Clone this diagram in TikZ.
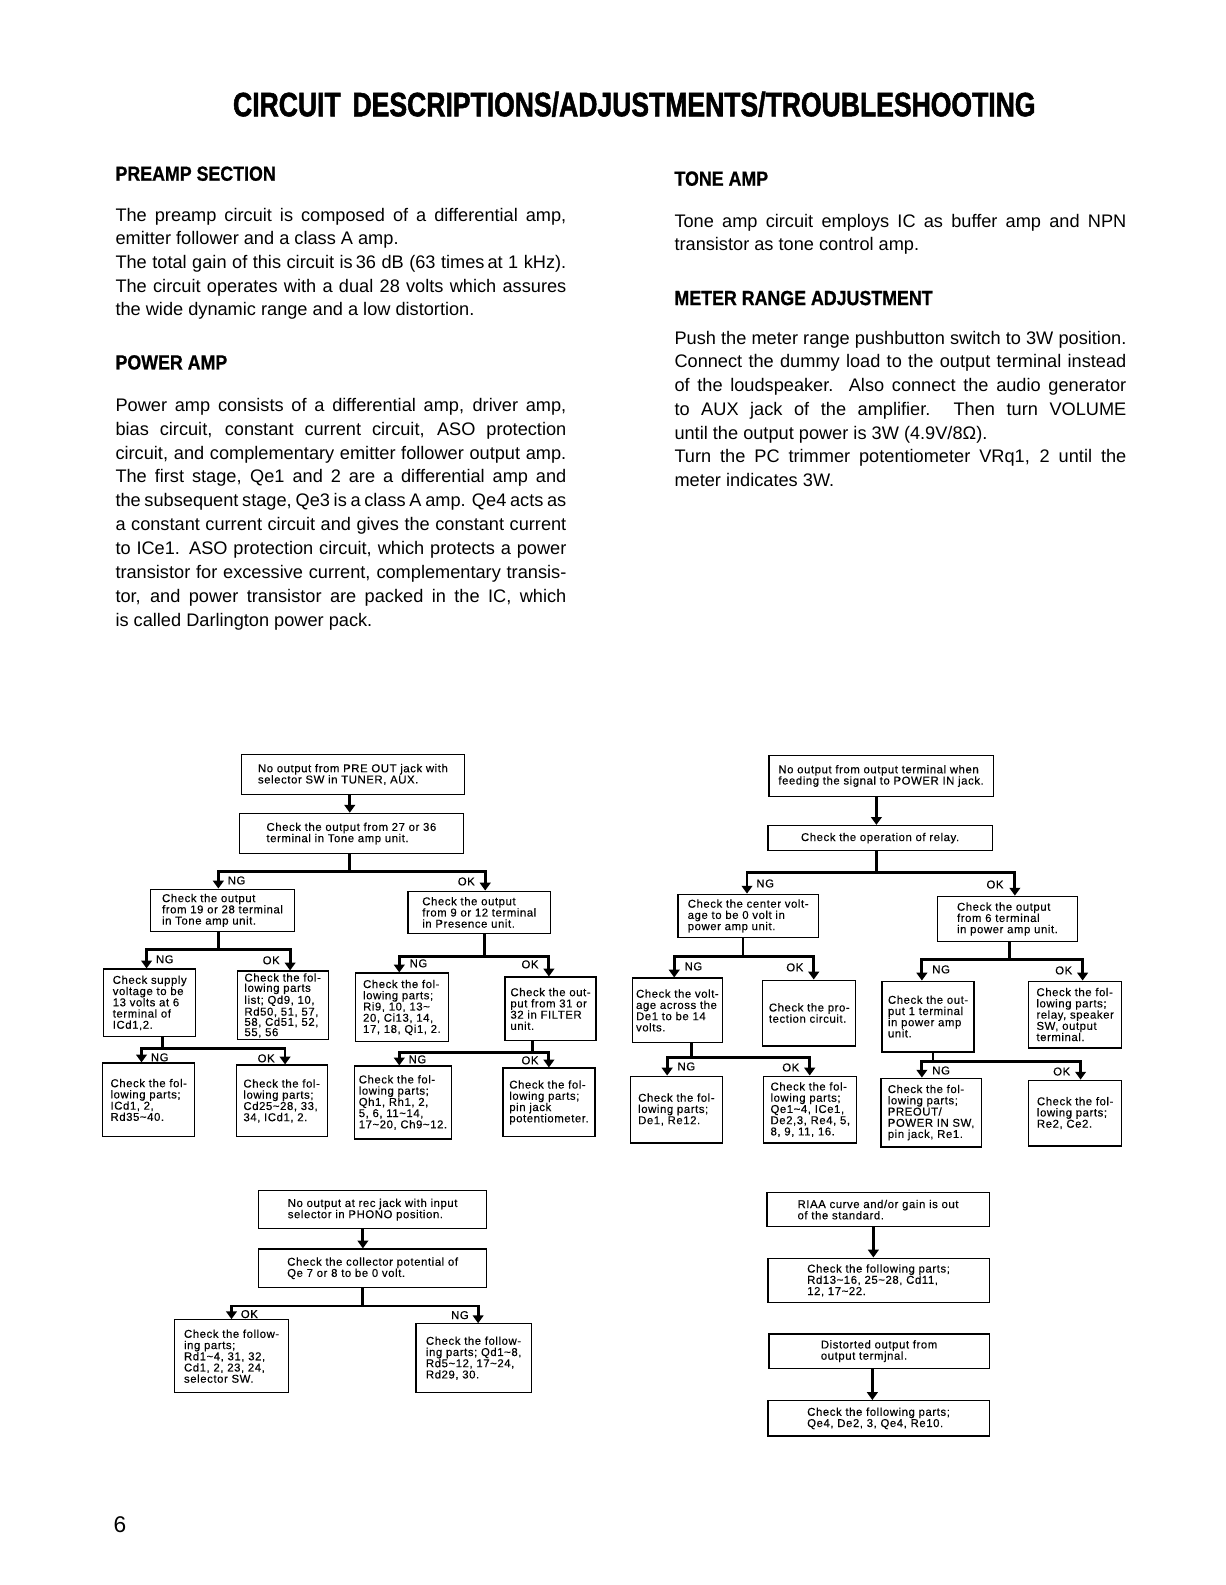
\documentclass[tikz,border=0pt]{standalone}
\usepackage{fontspec}
\usetikzlibrary{arrows.meta}
\setmainfont{Liberation Sans}
\newfontfamily\titlefont[FakeStretch=0.785,FakeBold=1.5]{Liberation Sans}
\newfontfamily\headfont[FakeStretch=0.87,FakeBold=0.8]{Liberation Sans}
\newfontfamily\boxfont[LetterSpace=5,FakeBold=0.3]{Liberation Sans}
\newlength\pxu
\setlength\pxu{0.25mm}
\newcommand\jline[1]{\makebox[446\pxu][s]{#1}}
\newcommand\jlineR[1]{\makebox[447\pxu][s]{#1}}
\newcommand\tld{\textasciitilde}

\tikzset{
  flowbox/.style={draw, line width=0.9pt, inner sep=0pt, align=left, anchor=north west,
    font=\boxfont\fontsize{8}{7.9}\selectfont},
  boxsize/.style 2 args={minimum width=#1*0.25mm, minimum height=#2*0.25mm},
  flowline/.style={line width=2pt},
  flowarrow/.style={line width=2pt, -{Triangle[width=7.5pt,length=5.5pt]}},
  flowlabel/.style={inner sep=0pt, font=\boxfont\fontsize{8}{8}\selectfont},
  bodyline/.style={anchor=base west, inner sep=0pt, font=\fontsize{12.8}{16}\selectfont},
  headline/.style={anchor=base west, inner sep=0pt, font=\headfont\bfseries\fontsize{14.4}{16}\selectfont},
}

\begin{document}
\begin{tikzpicture}[x=0.25mm, y=-0.25mm]
\fill[white] (0,0) rectangle (1212,1568);

% page title
\node[anchor=base, inner sep=0pt, font=\titlefont\bfseries\fontsize{23.8}{26}\selectfont] (title) at (627.5,115)
  {CIRCUIT\hspace{0.35em}DESCRIPTIONS/ADJUSTMENTS/TROUBLESHOOTING};

% left column
\node[headline] (hPre) at (114,178.8) {PREAMP SECTION};
\node[bodyline] (pre1) at (114,218.7) {\jline{The preamp circuit is composed of a differential amp,}};
\node[bodyline] (pre2) at (114,242.1) {emitter follower and a class A amp.};
\node[bodyline] (pre3) at (114,265.5) {\jline{The total gain of this circuit is\,36 dB (63 times\,at 1 kHz).}};
\node[bodyline] (pre4) at (114,288.9) {\jline{The circuit operates with a dual 28 volts which assures}};
\node[bodyline] (pre5) at (114,312.3) {the wide dynamic range and a low distortion.};

\node[headline] (hPow) at (114,365.5) {POWER AMP};
\node[bodyline] (pow1) at (114,407) {\jline{Power amp consists of a differential amp, driver amp,}};
\node[bodyline] (pow2) at (114,430.6) {\jline{bias circuit, constant current circuit, ASO protection}};
\node[bodyline] (pow3) at (114,454.2) {\jline{circuit, and complementary emitter follower output amp.}};
\node[bodyline] (pow4) at (114,477.8) {\jline{The first stage, Qe1 and 2 are a differential amp and}};
\node[bodyline] (pow5) at (114,501.4) {\jline{the subsequent stage, Qe3 is a class A amp. Qe4 acts as}};
\node[bodyline] (pow6) at (114,525) {\jline{a constant current circuit and gives the constant current}};
\node[bodyline] (pow7) at (114,548.6) {\jline{to ICe1. ASO protection circuit, which protects a power}};
\node[bodyline] (pow8) at (114,572.2) {\jline{transistor for excessive current, complementary transis-}};
\node[bodyline] (pow9) at (114,595.8) {\jline{tor, and power transistor are packed in the IC, which}};
\node[bodyline] (pow10) at (114,619.4) {is called Darlington power pack.};

% right column
\node[headline] (hTone) at (667,183.7) {TONE AMP};
\node[bodyline] (tone1) at (667,224.9) {\jlineR{Tone amp circuit employs IC as buffer amp and NPN}};
\node[bodyline] (tone2) at (667,248.3) {transistor as tone control amp.};

\node[headline] (hMeter) at (667,301.8) {METER RANGE ADJUSTMENT};
\node[bodyline] (met1) at (667,340.4) {\jlineR{Push the meter range pushbutton switch to 3W position.}};
\node[bodyline] (met2) at (667,363.9) {\jlineR{Connect the dummy load to the output terminal instead}};
\node[bodyline] (met3) at (667,387.4) {\jlineR{of the loudspeaker.\ \ Also connect the audio generator}};
\node[bodyline] (met4) at (667,410.9) {\jlineR{to AUX jack of the amplifier.\ \ Then turn VOLUME}};
\node[bodyline] (met5) at (667,434.4) {until the output power is 3W (4.9V/8Ω).};
\node[bodyline] (met6) at (667,457.9) {\jlineR{Turn the PC trimmer potentiometer VRq1, 2 until the}};
\node[bodyline] (met7) at (667,481.4) {meter indicates 3W.};

% flowchart: PRE OUT
\node[flowbox, boxsize={221}{39}] (A1) at (238,746) {No output from PRE OUT jack with\\selector SW in TUNER, AUX.};
\node[flowbox, boxsize={222}{40}] (A2) at (236,804) {Check the output from 27 or 36\\terminal in Tone amp unit.};
\node[flowbox, boxsize={143}{42}] (B1) at (148,879) {Check the output\\from 19 or 28 terminal\\in Tone amp unit.};
\node[flowbox, boxsize={141}{42}] (B2) at (403,881) {Check the output\\from 9 or 12 terminal\\in Presence unit.};
\node[flowbox, boxsize={91}{67}] (C1) at (102,958) {Check supply\\voltage to be\\13 volts at 6\\terminal of\\ICd1,2.};
\node[flowbox, boxsize={90}{68}, font=\boxfont\fontsize{8}{7.2}\selectfont] (C2) at (234,960) {Check the fol-\\lowing parts\\list; Qd9, 10,\\Rd50, 51, 57,\\58, Cd51, 52,\\55, 56};
\node[flowbox, boxsize={91}{73}] (D1) at (101,1051) {Check the fol-\\lowing parts;\\ICd1, 2,\\Rd35\tld40.};
\node[flowbox, boxsize={90}{71}] (D2) at (233,1053) {Check the fol-\\lowing parts;\\Cd25\tld28, 33,\\34, ICd1, 2.};
\node[flowbox, boxsize={92}{68}] (E1) at (351,962) {Check the fol-\\lowing parts;\\Ri9, 10, 13\tld\\20, Ci13, 14,\\17, 18, Qi1, 2.};
\node[flowbox, boxsize={90}{63}] (E2) at (499,966) {Check the out-\\put from 31 or\\32 in FILTER\\unit.};
\node[flowbox, boxsize={96}{72}] (F1) at (350,1054) {Check the fol-\\lowing parts;\\Qh1, Rh1, 2,\\5, 6, 11\tld14,\\17\tld20, Ch9\tld12.};
\node[flowbox, boxsize={91}{68}] (F2) at (497,1056) {Check the fol-\\lowing parts;\\pin jack\\potentiometer.};

\coordinate (jA) at (346,862);
\coordinate (jAl) at (216,862);
\coordinate (jAr) at (480,862);
\coordinate (jB) at (216,939);
\coordinate (jBl) at (145,939);
\coordinate (jBr) at (287,939);
\coordinate (jC) at (161,1037);
\coordinate (jCl) at (140,1037);
\coordinate (jCr) at (282,1037);
\coordinate (jE) at (479,946);
\coordinate (jEl) at (395,946);
\coordinate (jEr) at (543,946);
\coordinate (jF) at (527,1041);
\coordinate (jFl) at (395,1041);
\coordinate (jFr) at (543,1041);

\draw[flowarrow] (A1.south -| jA) -- (A2.north -| jA);
\draw[flowline] (A2.south -| jA) -- (jA);
\draw[flowarrow] (jA) -| (B1.north -| jAl);
\draw[flowarrow] (jA) -| (B2.north -| jAr);
\draw[flowline] (B1.south -| jB) -- (jB);
\draw[flowarrow] (jB) -| (C1.north -| jBl);
\draw[flowarrow] (jB) -| (C2.north -| jBr);
\draw[flowline] (C1.south -| jC) -- (jC);
\draw[flowarrow] (jC) -| (D1.north -| jCl);
\draw[flowarrow] (jC) -| (D2.north -| jCr);
\draw[flowline] (B2.south -| jE) -- (jE);
\draw[flowarrow] (jE) -| (E1.north -| jEl);
\draw[flowarrow] (jE) -| (E2.north -| jEr);
\draw[flowline] (E2.south -| jF) -- (jF);
\draw[flowarrow] (jF) -| (F1.north -| jFl);
\draw[flowarrow] (jF) -| (F2.north -| jFr);

\node[flowlabel, anchor=west] (ngA) at (225,871) {NG};
\node[flowlabel, anchor=east] (okA) at (470,872) {OK};
\node[flowlabel, anchor=west] (ngB) at (154,949) {NG};
\node[flowlabel, anchor=east] (okB) at (277,950) {OK};
\node[flowlabel, anchor=west] (ngC) at (149,1046) {NG};
\node[flowlabel, anchor=east] (okC) at (272,1047) {OK};
\node[flowlabel, anchor=west] (ngE) at (405,953) {NG};
\node[flowlabel, anchor=east] (okE) at (533,954) {OK};
\node[flowlabel, anchor=west] (ngF) at (404,1048) {NG};
\node[flowlabel, anchor=east] (okF) at (533,1049) {OK};

% flowchart: POWER IN
\node[flowbox, boxsize={222}{40}] (R1) at (760,747) {No output from output terminal when\\feeding the signal to POWER IN jack.};
\node[flowbox, boxsize={222}{25}] (R2) at (759,816) {Check the operation of relay.};
\node[flowbox, boxsize={139}{43}] (S1) at (670,884) {Check the center volt-\\age to be 0 volt in\\power amp unit.};
\node[flowbox, boxsize={138}{45}] (S2) at (927,886) {Check the output\\from 6 terminal\\in power amp unit.};
\node[flowbox, boxsize={89}{64}] (T1) at (625,967) {Check the volt-\\age across the\\De1 to be 14\\volts.};
\node[flowbox, boxsize={92}{65}] (T2) at (754,969) {Check the pro-\\tection circuit.};
\node[flowbox, boxsize={91}{66}] (U1) at (623,1064) {Check the fol-\\lowing parts;\\De1, Re12.};
\node[flowbox, boxsize={92}{66}] (U2) at (755,1064) {Check the fol-\\lowing parts;\\Qe1\tld4, ICe1,\\De2,3, Re4, 5,\\8, 9, 11, 16.};
\node[flowbox, boxsize={91}{70}] (V1) at (872,970) {Check the out-\\put 1 terminal\\in power amp\\unit.};
\node[flowbox, boxsize={92}{66}] (V2) at (1017,970) {Check the fol-\\lowing parts;\\relay, speaker\\SW, output\\terminal.};
\node[flowbox, boxsize={99}{68}] (W1) at (871,1066) {Check the fol-\\lowing parts;\\PREOUT/\\POWER IN SW,\\pin jack, Re1.};
\node[flowbox, boxsize={92}{65}] (W2) at (1017,1068) {Check the fol-\\lowing parts;\\Re2, Ce2.};

\coordinate (jR) at (867,863);
\coordinate (jRl) at (739,863);
\coordinate (jRr) at (1004,863);
\coordinate (jS) at (735,946);
\coordinate (jSl) at (667,946);
\coordinate (jSr) at (805,946);
\coordinate (jT) at (684,1046);
\coordinate (jTl) at (660,1046);
\coordinate (jTr) at (801,1046);
\coordinate (jV) at (999,949);
\coordinate (jVl) at (912,949);
\coordinate (jVr) at (1071,949);
\coordinate (jW) at (923,1050);
\coordinate (jWl) at (912,1050);
\coordinate (jWr) at (1069,1050);

\draw[flowarrow] (R1.south -| jR) -- (R2.north -| jR);
\draw[flowline] (R2.south -| jR) -- (jR);
\draw[flowarrow] (jR) -| (S1.north -| jRl);
\draw[flowarrow] (jR) -| (S2.north -| jRr);
\draw[flowline] (S1.south -| jS) -- (jS);
\draw[flowarrow] (jS) -| (T1.north -| jSl);
\draw[flowarrow] (jS) -| (T2.north -| jSr);
\draw[flowline] (T1.south -| jT) -- (jT);
\draw[flowarrow] (jT) -| (U1.north -| jTl);
\draw[flowarrow] (jT) -| (U2.north -| jTr);
\draw[flowline] (S2.south -| jV) -- (jV);
\draw[flowarrow] (jV) -| (V1.north -| jVl);
\draw[flowarrow] (jV) -| (V2.north -| jVr);
\draw[flowline] (V1.south -| jW) -- (jW);
\draw[flowarrow] (jW) -| (W1.north -| jWl);
\draw[flowarrow] (jW) -| (W2.north -| jWr);

\node[flowlabel, anchor=west] (ngR) at (748,874) {NG};
\node[flowlabel, anchor=east] (okR) at (993,875) {OK};
\node[flowlabel, anchor=west] (ngS) at (677,956) {NG};
\node[flowlabel, anchor=east] (okS) at (795,957) {OK};
\node[flowlabel, anchor=west] (ngT) at (670,1055) {NG};
\node[flowlabel, anchor=east] (okT) at (791,1056) {OK};
\node[flowlabel, anchor=west] (ngV) at (922,959) {NG};
\node[flowlabel, anchor=east] (okV) at (1061,960) {OK};
\node[flowlabel, anchor=west] (ngW) at (922,1059) {NG};
\node[flowlabel, anchor=east] (okW) at (1059,1060) {OK};

% flowchart: PHONO
\node[flowbox, boxsize={226}{38}] (G1) at (255,1177) {No output at rec jack with input\\selector in PHONO position.};
\node[flowbox, boxsize={226}{38}] (G2) at (255,1235) {Check the collector potential of\\Qe 7 or 8 to be 0 volt.};
\node[flowbox, boxsize={113}{72}] (H1) at (172,1305) {Check the follow-\\ing parts;\\Rd1\tld4, 31, 32,\\Cd1, 2, 23, 24,\\selector SW.};
\node[flowbox, boxsize={114}{68}] (H2) at (411,1309) {Check the follow-\\ing parts; Qd1\tld8,\\Rd5\tld12, 17\tld24,\\Rd29, 30.};

\coordinate (jG) at (359,1292);
\coordinate (jGl) at (229,1292);
\coordinate (jGr) at (473,1292);

\draw[flowarrow] (G1.south -| jG) -- (G2.north -| jG);
\draw[flowline] (G2.south -| jG) -- (jG);
\draw[flowarrow] (jG) -| (H1.north -| jGl);
\draw[flowarrow] (jG) -| (H2.north -| jGr);

\node[flowlabel, anchor=west] (okG) at (238,1300) {OK};
\node[flowlabel, anchor=east] (ngG) at (464,1301) {NG};

% flowchart: RIAA and distortion
\node[flowbox, boxsize={220}{34}] (J1) at (758,1179) {RIAA curve and/or gain is out\\of the standard.};
\node[flowbox, boxsize={219}{44}] (J2) at (759,1244) {Check the following parts;\\Rd13\tld16, 25\tld28, Cd11,\\12, 17\tld22.};
\node[flowbox, boxsize={218}{34}] (K1) at (760,1319) {Distorted output from\\output termjnal.};
\node[flowbox, boxsize={219}{35}] (K2) at (759,1385) {Check the following parts;\\Qe4, De2, 3, Qe4, Re10.};

\coordinate (jJ) at (864,1230);
\coordinate (jK) at (863,1370);
\draw[flowarrow] (J1.south -| jJ) -- (J2.north -| jJ);
\draw[flowarrow] (K1.south -| jK) -- (K2.north -| jK);

% page number
\node[anchor=base west, inner sep=0pt, font=\fontsize{16}{18}\selectfont] (page) at (112,1516) {6};
\end{tikzpicture}
\end{document}
